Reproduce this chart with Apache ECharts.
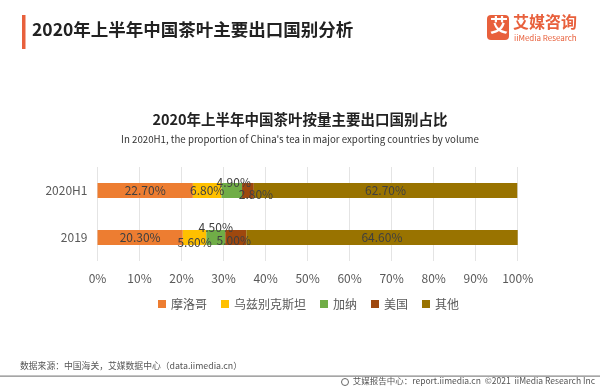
<!DOCTYPE html>
<html><head><meta charset="utf-8">
<script src="https://cdn.jsdelivr.net/npm/echarts@6/dist/echarts.min.js"></script>
<style>html,body{margin:0;padding:0;background:#fff}#c{width:600px;height:390px}</style>
</head><body><div id="c"></div>
<script>
const categories = ['2020H1', '2019'];
const seriesNames = ['摩洛哥', '乌兹别克斯坦', '加纳', '美国', '其他'];
const morocco = [22.7, 20.3];
const uzbekistan = [6.8, 5.6];
const ghana = [4.9, 4.5];
const usa = [2.8, 5.0];
const others = [62.7, 64.6];
const xTicks = ['0%','10%','20%','30%','40%','50%','60%','70%','80%','90%','100%'];

const colors = ['#ED7D31', '#FFC000', '#70AD47', '#9E480E', '#997300'];
// label offsets (presentation only), indexed [series][category]
const labelOffsets = [
  [[0,0],[0,0]],
  [[0,0],[0,5]],
  [[2,-8],[0,-10]],
  [[8,4],[-2,3]],
  [[0,0],[0,0]]
];
const values = [morocco, uzbekistan, ghana, usa, others];
const FONT = '"Noto Sans CJK SC", "Noto Sans", sans-serif';

const series = values.map((arr, si) => ({
  name: seriesNames[si],
  type: 'bar',
  stack: 'total',
  barWidth: 15,
  itemStyle: { color: colors[si] },
  label: {
    show: true, position: 'inside', color: '#404040', fontSize: 12, fontFamily: FONT,
    formatter: p => p.value.toFixed(2) + '%'
  },
  data: arr.map((v, ci) => ({ value: v, label: { offset: labelOffsets[si][ci] } }))
}));

const chart = echarts.init(document.getElementById('c'));
chart.setOption({
  animation: false,
  textStyle: { fontFamily: FONT },
  title: [{
    text: '2020年上半年中国茶叶按量主要出口国别占比',
    left: 'center', top: 107,
    textStyle: { fontSize: 14.5, fontWeight: 'bold', color: '#222', fontFamily: FONT }
  }, {
    text: "In 2020H1, the proportion of China's tea in major exporting countries by volume",
    left: 'center', top: 129,
    textStyle: { fontSize: 9.7, fontWeight: 'normal', color: '#333', fontFamily: FONT }
  }],
  grid: { left: 97.5, right: 82.3, top: 167, bottom: 129 },
  xAxis: {
    type: 'value', min: 0, max: 100, interval: 10,
    axisLine: { show: false }, axisTick: { show: false },
    splitLine: { lineStyle: { color: '#e4e4e4' } },
    axisLabel: { color: '#595959', fontSize: 12, margin: 11, fontFamily: FONT,
      formatter: v => xTicks[Math.round(v / 10)] }
  },
  yAxis: {
    type: 'category', data: categories, inverse: true,
    axisLine: { show: false }, axisTick: { show: false },
    axisLabel: { color: '#595959', fontSize: 12, margin: 10, fontFamily: FONT }
  },
  legend: {
    data: seriesNames, left: 153, top: 293, icon: 'rect', itemWidth: 8, itemHeight: 8,
    itemGap: 14, textStyle: { color: '#595959', fontSize: 12, fontFamily: FONT }
  },
  series: series,
  graphic: [
    { type: 'rect', shape: { x: 22, y: 15, width: 3.5, height: 34 }, style: { fill: '#E8603C' } },
    { type: 'text', left: 32, top: 21, style: { text: '2020年上半年中国茶叶主要出口国别分析', font: 'bold 17.5px ' + FONT, fill: '#222' } },
    { type: 'rect', shape: { x: 487, y: 15, width: 22, height: 25, r: 4 }, style: { fill: '#E8603C' } },
    { type: 'text', left: 490, top: 16, style: { text: '艾', font: 'bold 18px ' + FONT, fill: '#fff' } },
    { type: 'text', left: 513, top: 14, style: { text: '艾媒咨询', font: 'bold 16px ' + FONT, fill: '#E8603C' } },
    { type: 'text', left: 514, top: 34, style: { text: 'iiMedia Research', font: '8px ' + FONT, fill: '#E8603C' } },
    { type: 'text', left: 20, top: 361, style: { text: '数据来源：中国海关，艾媒数据中心（data.iimedia.cn）', font: '8.8px ' + FONT, fill: '#555' } },
    { type: 'rect', shape: { x: 0, y: 375.5, width: 600, height: 1.2 }, style: { fill: '#888' } },
    { type: 'circle', shape: { cx: 345, cy: 382, r: 3.5 }, style: { fill: 'none', stroke: '#666', lineWidth: 1 } },
    { type: 'text', right: 5, top: 377, style: { text: '艾媒报告中心：report.iimedia.cn  ©2021  iiMedia Research Inc', font: '8.5px ' + FONT, fill: '#555' } }
  ]
});
</script></body></html>
